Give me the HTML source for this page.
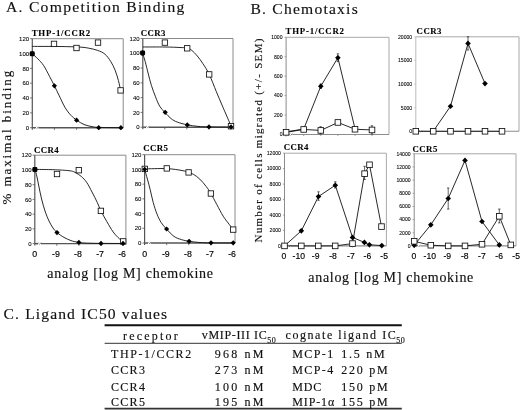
<!DOCTYPE html>
<html><head><meta charset="utf-8"><style>html,body{margin:0;padding:0;background:#fff;}svg{display:block;will-change:transform;}</style></head><body>
<svg width="520" height="410" viewBox="0 0 520 410">
<rect width="520" height="410" fill="#fff"/>
<text x="6.00" y="11.80" font-family="'Liberation Serif', serif" font-size="15.6" font-weight="normal" letter-spacing="1.29" text-anchor="start" fill="#111" stroke="#111" stroke-width="0.15" >A. Competition Binding</text>
<text x="250.50" y="13.60" font-family="'Liberation Serif', serif" font-size="15.6" font-weight="normal" letter-spacing="1.21" text-anchor="start" fill="#111" stroke="#111" stroke-width="0.15" >B. Chemotaxis</text>
<text x="3.60" y="318.70" font-family="'Liberation Serif', serif" font-size="15.6" font-weight="normal" letter-spacing="1.12" text-anchor="start" fill="#111" stroke="#111" stroke-width="0.15" >C. Ligand IC50 values</text>
<line x1="32.30" y1="38.70" x2="123.20" y2="38.70" stroke="#8a8a8a" stroke-width="1"/>
<line x1="123.20" y1="38.70" x2="123.20" y2="127.70" stroke="#8a8a8a" stroke-width="1"/>
<line x1="32.30" y1="38.70" x2="32.30" y2="129.70" stroke="#555" stroke-width="1.2"/>
<line x1="32.30" y1="127.70" x2="35.50" y2="127.70" stroke="#555" stroke-width="1.4"/>
<line x1="38.50" y1="127.70" x2="123.20" y2="127.70" stroke="#555" stroke-width="1.4"/>
<line x1="34.50" y1="128.70" x2="36.10" y2="126.70" stroke="#444" stroke-width="0.7"/>
<line x1="36.90" y1="128.70" x2="38.50" y2="126.70" stroke="#444" stroke-width="0.7"/>
<line x1="30.10" y1="38.70" x2="32.30" y2="38.70" stroke="#555" stroke-width="0.8"/>
<text x="29.10" y="40.86" font-family="'Liberation Sans', sans-serif" font-size="6.0" font-weight="normal" letter-spacing="0" text-anchor="end" fill="#000" stroke="#000" stroke-width="0.08" >120</text>
<line x1="30.10" y1="53.53" x2="32.30" y2="53.53" stroke="#555" stroke-width="0.8"/>
<text x="29.10" y="55.69" font-family="'Liberation Sans', sans-serif" font-size="6.0" font-weight="normal" letter-spacing="0" text-anchor="end" fill="#000" stroke="#000" stroke-width="0.08" >100</text>
<line x1="30.10" y1="68.37" x2="32.30" y2="68.37" stroke="#555" stroke-width="0.8"/>
<text x="29.10" y="70.53" font-family="'Liberation Sans', sans-serif" font-size="6.0" font-weight="normal" letter-spacing="0" text-anchor="end" fill="#000" stroke="#000" stroke-width="0.08" >80</text>
<line x1="30.10" y1="83.20" x2="32.30" y2="83.20" stroke="#555" stroke-width="0.8"/>
<text x="29.10" y="85.36" font-family="'Liberation Sans', sans-serif" font-size="6.0" font-weight="normal" letter-spacing="0" text-anchor="end" fill="#000" stroke="#000" stroke-width="0.08" >60</text>
<line x1="30.10" y1="98.03" x2="32.30" y2="98.03" stroke="#555" stroke-width="0.8"/>
<text x="29.10" y="100.19" font-family="'Liberation Sans', sans-serif" font-size="6.0" font-weight="normal" letter-spacing="0" text-anchor="end" fill="#000" stroke="#000" stroke-width="0.08" >40</text>
<line x1="30.10" y1="112.87" x2="32.30" y2="112.87" stroke="#555" stroke-width="0.8"/>
<text x="29.10" y="115.03" font-family="'Liberation Sans', sans-serif" font-size="6.0" font-weight="normal" letter-spacing="0" text-anchor="end" fill="#000" stroke="#000" stroke-width="0.08" >20</text>
<line x1="30.10" y1="127.70" x2="32.30" y2="127.70" stroke="#555" stroke-width="0.8"/>
<text x="29.10" y="129.86" font-family="'Liberation Sans', sans-serif" font-size="6.0" font-weight="normal" letter-spacing="0" text-anchor="end" fill="#000" stroke="#000" stroke-width="0.08" >0</text>
<line x1="54.45" y1="127.70" x2="54.45" y2="129.90" stroke="#555" stroke-width="0.8"/>
<line x1="76.60" y1="127.70" x2="76.60" y2="129.90" stroke="#555" stroke-width="0.8"/>
<line x1="98.75" y1="127.70" x2="98.75" y2="129.90" stroke="#555" stroke-width="0.8"/>
<line x1="120.90" y1="127.70" x2="120.90" y2="129.90" stroke="#555" stroke-width="0.8"/>
<path d="M32.30 46.40 C36.92 46.42 52.05 46.38 60.00 46.50 C67.95 46.62 75.20 46.82 80.00 47.10 C84.80 47.38 85.87 47.65 88.80 48.20 C91.73 48.75 94.92 49.42 97.60 50.40 C100.28 51.38 102.72 52.27 104.90 54.10 C107.08 55.93 109.00 58.72 110.70 61.40 C112.40 64.08 113.82 67.02 115.10 70.20 C116.38 73.38 117.48 77.13 118.40 80.50 C119.32 83.87 120.23 88.75 120.60 90.40" fill="none" stroke="#111" stroke-width="0.9"/>
<path d="M32.20 53.70 C33.13 54.55 35.88 56.82 37.80 58.80 C39.72 60.78 41.75 62.68 43.70 65.60 C45.65 68.52 47.72 72.93 49.50 76.30 C51.28 79.67 52.77 82.53 54.40 85.80 C56.03 89.07 57.52 92.27 59.30 95.90 C61.08 99.53 63.15 104.35 65.10 107.60 C67.05 110.85 69.05 113.30 71.00 115.40 C72.95 117.50 74.63 118.68 76.80 120.20 C78.97 121.72 81.47 123.43 84.00 124.50 C86.53 125.57 89.33 126.12 92.00 126.60 C94.67 127.08 95.18 127.22 100.00 127.40 C104.82 127.58 117.42 127.65 120.90 127.70" fill="none" stroke="#111" stroke-width="0.9"/>
<rect x="51.30" y="41.20" width="5.4" height="5.4" fill="#fff" stroke="#111" stroke-width="0.85"/>
<rect x="73.80" y="45.30" width="5.4" height="5.4" fill="#fff" stroke="#111" stroke-width="0.85"/>
<rect x="95.30" y="39.90" width="5.4" height="5.4" fill="#fff" stroke="#111" stroke-width="0.85"/>
<rect x="117.90" y="87.70" width="5.4" height="5.4" fill="#fff" stroke="#111" stroke-width="0.85"/>
<rect x="29.70" y="51.20" width="5.0" height="5.0" rx="1.3" fill="#000"/>
<path d="M32.20 51.10 L34.80 53.70 L32.20 56.30 L29.60 53.70Z" fill="#000"/>
<path d="M54.40 83.20 L57.00 85.80 L54.40 88.40 L51.80 85.80Z" fill="#000"/>
<path d="M76.60 117.60 L79.20 120.20 L76.60 122.80 L74.00 120.20Z" fill="#000"/>
<path d="M98.70 125.10 L101.30 127.70 L98.70 130.30 L96.10 127.70Z" fill="#000"/>
<path d="M120.90 125.10 L123.50 127.70 L120.90 130.30 L118.30 127.70Z" fill="#000"/>
<line x1="142.80" y1="38.50" x2="233.00" y2="38.50" stroke="#8a8a8a" stroke-width="1"/>
<line x1="233.00" y1="38.50" x2="233.00" y2="127.20" stroke="#8a8a8a" stroke-width="1"/>
<line x1="142.80" y1="38.50" x2="142.80" y2="129.20" stroke="#555" stroke-width="1.2"/>
<line x1="142.80" y1="127.20" x2="146.00" y2="127.20" stroke="#555" stroke-width="1.4"/>
<line x1="149.00" y1="127.20" x2="233.00" y2="127.20" stroke="#555" stroke-width="1.4"/>
<line x1="145.00" y1="128.20" x2="146.60" y2="126.20" stroke="#444" stroke-width="0.7"/>
<line x1="147.40" y1="128.20" x2="149.00" y2="126.20" stroke="#444" stroke-width="0.7"/>
<line x1="140.60" y1="38.50" x2="142.80" y2="38.50" stroke="#555" stroke-width="0.8"/>
<text x="139.60" y="40.66" font-family="'Liberation Sans', sans-serif" font-size="6.0" font-weight="normal" letter-spacing="0" text-anchor="end" fill="#000" stroke="#000" stroke-width="0.08" >120</text>
<line x1="140.60" y1="53.28" x2="142.80" y2="53.28" stroke="#555" stroke-width="0.8"/>
<text x="139.60" y="55.44" font-family="'Liberation Sans', sans-serif" font-size="6.0" font-weight="normal" letter-spacing="0" text-anchor="end" fill="#000" stroke="#000" stroke-width="0.08" >100</text>
<line x1="140.60" y1="68.07" x2="142.80" y2="68.07" stroke="#555" stroke-width="0.8"/>
<text x="139.60" y="70.23" font-family="'Liberation Sans', sans-serif" font-size="6.0" font-weight="normal" letter-spacing="0" text-anchor="end" fill="#000" stroke="#000" stroke-width="0.08" >80</text>
<line x1="140.60" y1="82.85" x2="142.80" y2="82.85" stroke="#555" stroke-width="0.8"/>
<text x="139.60" y="85.01" font-family="'Liberation Sans', sans-serif" font-size="6.0" font-weight="normal" letter-spacing="0" text-anchor="end" fill="#000" stroke="#000" stroke-width="0.08" >60</text>
<line x1="140.60" y1="97.63" x2="142.80" y2="97.63" stroke="#555" stroke-width="0.8"/>
<text x="139.60" y="99.79" font-family="'Liberation Sans', sans-serif" font-size="6.0" font-weight="normal" letter-spacing="0" text-anchor="end" fill="#000" stroke="#000" stroke-width="0.08" >40</text>
<line x1="140.60" y1="112.42" x2="142.80" y2="112.42" stroke="#555" stroke-width="0.8"/>
<text x="139.60" y="114.58" font-family="'Liberation Sans', sans-serif" font-size="6.0" font-weight="normal" letter-spacing="0" text-anchor="end" fill="#000" stroke="#000" stroke-width="0.08" >20</text>
<line x1="140.60" y1="127.20" x2="142.80" y2="127.20" stroke="#555" stroke-width="0.8"/>
<text x="139.60" y="129.36" font-family="'Liberation Sans', sans-serif" font-size="6.0" font-weight="normal" letter-spacing="0" text-anchor="end" fill="#000" stroke="#000" stroke-width="0.08" >0</text>
<line x1="164.80" y1="127.20" x2="164.80" y2="129.40" stroke="#555" stroke-width="0.8"/>
<line x1="186.80" y1="127.20" x2="186.80" y2="129.40" stroke="#555" stroke-width="0.8"/>
<line x1="208.80" y1="127.20" x2="208.80" y2="129.40" stroke="#555" stroke-width="0.8"/>
<line x1="230.80" y1="127.20" x2="230.80" y2="129.40" stroke="#555" stroke-width="0.8"/>
<path d="M142.80 47.00 C146.50 47.00 158.80 46.92 165.00 47.00 C171.20 47.08 176.30 47.32 180.00 47.50 C183.70 47.68 185.25 47.63 187.20 48.10 C189.15 48.57 190.02 48.98 191.70 50.30 C193.38 51.62 195.42 53.75 197.30 56.00 C199.18 58.25 201.02 60.75 203.00 63.80 C204.98 66.85 206.97 69.63 209.20 74.30 C211.43 78.97 214.08 86.25 216.40 91.80 C218.72 97.35 220.85 102.35 223.10 107.60 C225.35 112.85 228.58 120.20 229.90 123.30 C231.22 126.40 230.82 125.72 231.00 126.20" fill="none" stroke="#111" stroke-width="0.9"/>
<path d="M142.50 52.90 C142.95 54.35 144.23 58.08 145.20 61.60 C146.17 65.12 147.27 70.03 148.30 74.00 C149.33 77.97 150.20 81.60 151.40 85.40 C152.60 89.20 154.12 93.33 155.50 96.80 C156.88 100.27 158.13 103.60 159.70 106.20 C161.27 108.80 163.00 110.33 164.90 112.40 C166.80 114.47 169.03 116.98 171.10 118.60 C173.17 120.22 174.60 121.07 177.30 122.10 C180.00 123.13 183.85 124.08 187.30 124.80 C190.75 125.52 194.38 126.05 198.00 126.40 C201.62 126.75 203.50 126.78 209.00 126.90 C214.50 127.02 227.33 127.07 231.00 127.10" fill="none" stroke="#111" stroke-width="0.9"/>
<rect x="162.20" y="39.90" width="5.4" height="5.4" fill="#fff" stroke="#111" stroke-width="0.85"/>
<rect x="184.50" y="45.60" width="5.4" height="5.4" fill="#fff" stroke="#111" stroke-width="0.85"/>
<rect x="206.50" y="71.70" width="5.4" height="5.4" fill="#fff" stroke="#111" stroke-width="0.85"/>
<rect x="228.30" y="123.50" width="5.4" height="5.4" fill="#fff" stroke="#111" stroke-width="0.85"/>
<rect x="140.10" y="50.40" width="5.0" height="5.0" rx="1.3" fill="#000"/>
<path d="M142.60 50.30 L145.20 52.90 L142.60 55.50 L140.00 52.90Z" fill="#000"/>
<path d="M165.20 109.70 L167.80 112.30 L165.20 114.90 L162.60 112.30Z" fill="#000"/>
<path d="M187.30 122.30 L189.90 124.90 L187.30 127.50 L184.70 124.90Z" fill="#000"/>
<path d="M209.00 124.30 L211.60 126.90 L209.00 129.50 L206.40 126.90Z" fill="#000"/>
<path d="M231.00 124.30 L233.60 126.90 L231.00 129.50 L228.40 126.90Z" fill="#000"/>
<line x1="34.80" y1="155.20" x2="125.90" y2="155.20" stroke="#8a8a8a" stroke-width="1"/>
<line x1="125.90" y1="155.20" x2="125.90" y2="243.60" stroke="#8a8a8a" stroke-width="1"/>
<line x1="34.80" y1="155.20" x2="34.80" y2="245.60" stroke="#555" stroke-width="1.2"/>
<line x1="34.80" y1="243.60" x2="38.00" y2="243.60" stroke="#555" stroke-width="1.4"/>
<line x1="41.00" y1="243.60" x2="125.90" y2="243.60" stroke="#555" stroke-width="1.4"/>
<line x1="37.00" y1="244.60" x2="38.60" y2="242.60" stroke="#444" stroke-width="0.7"/>
<line x1="39.40" y1="244.60" x2="41.00" y2="242.60" stroke="#444" stroke-width="0.7"/>
<line x1="32.60" y1="155.20" x2="34.80" y2="155.20" stroke="#555" stroke-width="0.8"/>
<text x="31.60" y="157.36" font-family="'Liberation Sans', sans-serif" font-size="6.0" font-weight="normal" letter-spacing="0" text-anchor="end" fill="#000" stroke="#000" stroke-width="0.08" >120</text>
<line x1="32.60" y1="169.93" x2="34.80" y2="169.93" stroke="#555" stroke-width="0.8"/>
<text x="31.60" y="172.09" font-family="'Liberation Sans', sans-serif" font-size="6.0" font-weight="normal" letter-spacing="0" text-anchor="end" fill="#000" stroke="#000" stroke-width="0.08" >100</text>
<line x1="32.60" y1="184.67" x2="34.80" y2="184.67" stroke="#555" stroke-width="0.8"/>
<text x="31.60" y="186.83" font-family="'Liberation Sans', sans-serif" font-size="6.0" font-weight="normal" letter-spacing="0" text-anchor="end" fill="#000" stroke="#000" stroke-width="0.08" >80</text>
<line x1="32.60" y1="199.40" x2="34.80" y2="199.40" stroke="#555" stroke-width="0.8"/>
<text x="31.60" y="201.56" font-family="'Liberation Sans', sans-serif" font-size="6.0" font-weight="normal" letter-spacing="0" text-anchor="end" fill="#000" stroke="#000" stroke-width="0.08" >60</text>
<line x1="32.60" y1="214.13" x2="34.80" y2="214.13" stroke="#555" stroke-width="0.8"/>
<text x="31.60" y="216.29" font-family="'Liberation Sans', sans-serif" font-size="6.0" font-weight="normal" letter-spacing="0" text-anchor="end" fill="#000" stroke="#000" stroke-width="0.08" >40</text>
<line x1="32.60" y1="228.87" x2="34.80" y2="228.87" stroke="#555" stroke-width="0.8"/>
<text x="31.60" y="231.03" font-family="'Liberation Sans', sans-serif" font-size="6.0" font-weight="normal" letter-spacing="0" text-anchor="end" fill="#000" stroke="#000" stroke-width="0.08" >20</text>
<line x1="32.60" y1="243.60" x2="34.80" y2="243.60" stroke="#555" stroke-width="0.8"/>
<text x="31.60" y="245.76" font-family="'Liberation Sans', sans-serif" font-size="6.0" font-weight="normal" letter-spacing="0" text-anchor="end" fill="#000" stroke="#000" stroke-width="0.08" >0</text>
<line x1="56.85" y1="243.60" x2="56.85" y2="245.80" stroke="#555" stroke-width="0.8"/>
<line x1="78.90" y1="243.60" x2="78.90" y2="245.80" stroke="#555" stroke-width="0.8"/>
<line x1="100.95" y1="243.60" x2="100.95" y2="245.80" stroke="#555" stroke-width="0.8"/>
<line x1="123.00" y1="243.60" x2="123.00" y2="245.80" stroke="#555" stroke-width="0.8"/>
<path d="M35.00 169.40 C37.50 169.43 45.83 169.50 50.00 169.60 C54.17 169.70 56.67 169.80 60.00 170.00 C63.33 170.20 67.50 170.42 70.00 170.80 C72.50 171.18 73.10 171.35 75.00 172.30 C76.90 173.25 79.45 174.82 81.40 176.50 C83.35 178.18 84.93 179.82 86.70 182.40 C88.47 184.98 90.23 188.65 92.00 192.00 C93.77 195.35 95.82 199.35 97.30 202.50 C98.78 205.65 99.32 207.73 100.90 210.90 C102.48 214.07 104.75 217.98 106.80 221.50 C108.85 225.02 111.08 229.10 113.20 232.00 C115.32 234.90 117.82 237.30 119.50 238.90 C121.18 240.50 122.67 241.15 123.30 241.60" fill="none" stroke="#111" stroke-width="0.9"/>
<path d="M35.00 169.40 C35.33 170.67 36.33 174.07 37.00 177.00 C37.67 179.93 38.23 183.33 39.00 187.00 C39.77 190.67 40.60 195.00 41.60 199.00 C42.60 203.00 43.77 207.33 45.00 211.00 C46.23 214.67 47.67 218.17 49.00 221.00 C50.33 223.83 51.67 226.07 53.00 228.00 C54.33 229.93 55.17 231.03 57.00 232.60 C58.83 234.17 61.67 236.07 64.00 237.40 C66.33 238.73 68.67 239.80 71.00 240.60 C73.33 241.40 74.83 241.77 78.00 242.20 C81.17 242.63 82.50 242.98 90.00 243.20 C97.50 243.42 117.50 243.45 123.00 243.50" fill="none" stroke="#111" stroke-width="0.9"/>
<rect x="54.30" y="171.30" width="5.4" height="5.4" fill="#fff" stroke="#111" stroke-width="0.85"/>
<rect x="76.10" y="167.50" width="5.4" height="5.4" fill="#fff" stroke="#111" stroke-width="0.85"/>
<rect x="98.20" y="208.20" width="5.4" height="5.4" fill="#fff" stroke="#111" stroke-width="0.85"/>
<rect x="120.50" y="238.70" width="5.4" height="5.4" fill="#fff" stroke="#111" stroke-width="0.85"/>
<rect x="32.40" y="167.10" width="5.0" height="5.0" rx="1.3" fill="#000"/>
<path d="M34.90 167.00 L37.50 169.60 L34.90 172.20 L32.30 169.60Z" fill="#000"/>
<path d="M57.00 230.00 L59.60 232.60 L57.00 235.20 L54.40 232.60Z" fill="#000"/>
<path d="M78.90 239.80 L81.50 242.40 L78.90 245.00 L76.30 242.40Z" fill="#000"/>
<path d="M101.00 240.80 L103.60 243.40 L101.00 246.00 L98.40 243.40Z" fill="#000"/>
<path d="M123.00 240.80 L125.60 243.40 L123.00 246.00 L120.40 243.40Z" fill="#000"/>
<line x1="144.60" y1="154.70" x2="235.00" y2="154.70" stroke="#8a8a8a" stroke-width="1"/>
<line x1="235.00" y1="154.70" x2="235.00" y2="243.00" stroke="#8a8a8a" stroke-width="1"/>
<line x1="144.60" y1="154.70" x2="144.60" y2="245.00" stroke="#555" stroke-width="1.2"/>
<line x1="144.60" y1="243.00" x2="147.80" y2="243.00" stroke="#555" stroke-width="1.4"/>
<line x1="150.80" y1="243.00" x2="235.00" y2="243.00" stroke="#555" stroke-width="1.4"/>
<line x1="146.80" y1="244.00" x2="148.40" y2="242.00" stroke="#444" stroke-width="0.7"/>
<line x1="149.20" y1="244.00" x2="150.80" y2="242.00" stroke="#444" stroke-width="0.7"/>
<line x1="142.40" y1="154.70" x2="144.60" y2="154.70" stroke="#555" stroke-width="0.8"/>
<text x="141.40" y="156.86" font-family="'Liberation Sans', sans-serif" font-size="6.0" font-weight="normal" letter-spacing="0" text-anchor="end" fill="#000" stroke="#000" stroke-width="0.08" >120</text>
<line x1="142.40" y1="169.42" x2="144.60" y2="169.42" stroke="#555" stroke-width="0.8"/>
<text x="141.40" y="171.58" font-family="'Liberation Sans', sans-serif" font-size="6.0" font-weight="normal" letter-spacing="0" text-anchor="end" fill="#000" stroke="#000" stroke-width="0.08" >100</text>
<line x1="142.40" y1="184.13" x2="144.60" y2="184.13" stroke="#555" stroke-width="0.8"/>
<text x="141.40" y="186.29" font-family="'Liberation Sans', sans-serif" font-size="6.0" font-weight="normal" letter-spacing="0" text-anchor="end" fill="#000" stroke="#000" stroke-width="0.08" >80</text>
<line x1="142.40" y1="198.85" x2="144.60" y2="198.85" stroke="#555" stroke-width="0.8"/>
<text x="141.40" y="201.01" font-family="'Liberation Sans', sans-serif" font-size="6.0" font-weight="normal" letter-spacing="0" text-anchor="end" fill="#000" stroke="#000" stroke-width="0.08" >60</text>
<line x1="142.40" y1="213.57" x2="144.60" y2="213.57" stroke="#555" stroke-width="0.8"/>
<text x="141.40" y="215.73" font-family="'Liberation Sans', sans-serif" font-size="6.0" font-weight="normal" letter-spacing="0" text-anchor="end" fill="#000" stroke="#000" stroke-width="0.08" >40</text>
<line x1="142.40" y1="228.28" x2="144.60" y2="228.28" stroke="#555" stroke-width="0.8"/>
<text x="141.40" y="230.44" font-family="'Liberation Sans', sans-serif" font-size="6.0" font-weight="normal" letter-spacing="0" text-anchor="end" fill="#000" stroke="#000" stroke-width="0.08" >20</text>
<line x1="142.40" y1="243.00" x2="144.60" y2="243.00" stroke="#555" stroke-width="0.8"/>
<text x="141.40" y="245.16" font-family="'Liberation Sans', sans-serif" font-size="6.0" font-weight="normal" letter-spacing="0" text-anchor="end" fill="#000" stroke="#000" stroke-width="0.08" >0</text>
<line x1="166.70" y1="243.00" x2="166.70" y2="245.20" stroke="#555" stroke-width="0.8"/>
<line x1="188.80" y1="243.00" x2="188.80" y2="245.20" stroke="#555" stroke-width="0.8"/>
<line x1="210.90" y1="243.00" x2="210.90" y2="245.20" stroke="#555" stroke-width="0.8"/>
<line x1="233.00" y1="243.00" x2="233.00" y2="245.20" stroke="#555" stroke-width="0.8"/>
<path d="M144.70 168.90 C148.33 168.85 160.28 168.33 166.50 168.60 C172.72 168.87 178.38 169.88 182.00 170.50 C185.62 171.12 186.28 171.65 188.20 172.30 C190.12 172.95 191.57 173.27 193.50 174.40 C195.43 175.53 197.68 177.08 199.80 179.10 C201.92 181.12 204.35 184.10 206.20 186.50 C208.05 188.90 209.13 190.50 210.90 193.50 C212.67 196.50 214.75 200.72 216.80 204.50 C218.85 208.28 221.08 212.83 223.20 216.20 C225.32 219.57 227.82 222.48 229.50 224.70 C231.18 226.92 232.67 228.70 233.30 229.50" fill="none" stroke="#111" stroke-width="0.9"/>
<path d="M144.70 169.60 C145.15 171.18 146.48 175.75 147.40 179.10 C148.32 182.45 149.23 185.82 150.20 189.70 C151.17 193.58 152.07 198.33 153.20 202.40 C154.33 206.47 155.67 210.73 157.00 214.10 C158.33 217.47 159.62 220.12 161.20 222.60 C162.78 225.08 164.37 226.70 166.50 229.00 C168.63 231.30 171.52 234.63 174.00 236.40 C176.48 238.17 178.87 238.78 181.40 239.60 C183.93 240.42 186.10 240.82 189.20 241.30 C192.30 241.78 196.37 242.23 200.00 242.50 C203.63 242.77 205.50 242.82 211.00 242.90 C216.50 242.98 229.33 242.98 233.00 243.00" fill="none" stroke="#111" stroke-width="0.9"/>
<rect x="142.10" y="166.20" width="5.4" height="5.4" fill="#fff" stroke="#111" stroke-width="0.85"/>
<rect x="164.10" y="165.70" width="5.4" height="5.4" fill="#fff" stroke="#111" stroke-width="0.85"/>
<rect x="185.90" y="169.70" width="5.4" height="5.4" fill="#fff" stroke="#111" stroke-width="0.85"/>
<rect x="208.20" y="190.80" width="5.4" height="5.4" fill="#fff" stroke="#111" stroke-width="0.85"/>
<rect x="230.50" y="226.90" width="5.4" height="5.4" fill="#fff" stroke="#111" stroke-width="0.85"/>
<path d="M144.70 166.70 L147.30 169.30 L144.70 171.90 L142.10 169.30Z" fill="#000"/>
<path d="M166.60 226.40 L169.20 229.00 L166.60 231.60 L164.00 229.00Z" fill="#000"/>
<path d="M189.10 238.70 L191.70 241.30 L189.10 243.90 L186.50 241.30Z" fill="#000"/>
<path d="M211.00 240.20 L213.60 242.80 L211.00 245.40 L208.40 242.80Z" fill="#000"/>
<path d="M233.20 240.20 L235.80 242.80 L233.20 245.40 L230.60 242.80Z" fill="#000"/>
<text x="34.80" y="257.40" font-family="'Liberation Sans', sans-serif" font-size="8.8" font-weight="normal" letter-spacing="0" text-anchor="middle" fill="#000" stroke="#000" stroke-width="0.15" >0</text>
<text x="55.95" y="257.40" font-family="'Liberation Sans', sans-serif" font-size="8.8" font-weight="normal" letter-spacing="0" text-anchor="middle" fill="#000" stroke="#000" stroke-width="0.15" >-9</text>
<text x="78.00" y="257.40" font-family="'Liberation Sans', sans-serif" font-size="8.8" font-weight="normal" letter-spacing="0" text-anchor="middle" fill="#000" stroke="#000" stroke-width="0.15" >-8</text>
<text x="100.05" y="257.40" font-family="'Liberation Sans', sans-serif" font-size="8.8" font-weight="normal" letter-spacing="0" text-anchor="middle" fill="#000" stroke="#000" stroke-width="0.15" >-7</text>
<text x="122.10" y="257.40" font-family="'Liberation Sans', sans-serif" font-size="8.8" font-weight="normal" letter-spacing="0" text-anchor="middle" fill="#000" stroke="#000" stroke-width="0.15" >-6</text>
<text x="144.60" y="257.40" font-family="'Liberation Sans', sans-serif" font-size="8.8" font-weight="normal" letter-spacing="0" text-anchor="middle" fill="#000" stroke="#000" stroke-width="0.15" >0</text>
<text x="165.80" y="257.40" font-family="'Liberation Sans', sans-serif" font-size="8.8" font-weight="normal" letter-spacing="0" text-anchor="middle" fill="#000" stroke="#000" stroke-width="0.15" >-9</text>
<text x="187.90" y="257.40" font-family="'Liberation Sans', sans-serif" font-size="8.8" font-weight="normal" letter-spacing="0" text-anchor="middle" fill="#000" stroke="#000" stroke-width="0.15" >-8</text>
<text x="210.00" y="257.40" font-family="'Liberation Sans', sans-serif" font-size="8.8" font-weight="normal" letter-spacing="0" text-anchor="middle" fill="#000" stroke="#000" stroke-width="0.15" >-7</text>
<text x="232.10" y="257.40" font-family="'Liberation Sans', sans-serif" font-size="8.8" font-weight="normal" letter-spacing="0" text-anchor="middle" fill="#000" stroke="#000" stroke-width="0.15" >-6</text>
<text transform="translate(10.6,204.6) rotate(-90)" font-family="'Liberation Serif', serif" font-size="13" letter-spacing="1.95" fill="#111" stroke="#111" stroke-width="0.15">% maximal binding</text>
<text x="47.30" y="278.00" font-family="'Liberation Serif', serif" font-size="14" font-weight="normal" letter-spacing="0.73" text-anchor="start" fill="#111" stroke="#111" stroke-width="0.15" >analog [log M] chemokine</text>
<line x1="286.10" y1="37.30" x2="389.00" y2="37.30" stroke="#a8a8a8" stroke-width="1"/>
<line x1="389.00" y1="37.30" x2="389.00" y2="134.50" stroke="#a8a8a8" stroke-width="1"/>
<line x1="286.10" y1="37.30" x2="286.10" y2="136.50" stroke="#8c8c8c" stroke-width="1.0"/>
<line x1="286.10" y1="134.50" x2="289.30" y2="134.50" stroke="#8c8c8c" stroke-width="1.1"/>
<line x1="292.30" y1="134.50" x2="389.00" y2="134.50" stroke="#8c8c8c" stroke-width="1.1"/>
<line x1="288.30" y1="135.50" x2="289.90" y2="133.50" stroke="#444" stroke-width="0.7"/>
<line x1="290.70" y1="135.50" x2="292.30" y2="133.50" stroke="#444" stroke-width="0.7"/>
<line x1="284.50" y1="37.30" x2="286.10" y2="37.30" stroke="#8c8c8c" stroke-width="0.8"/>
<text x="282.50" y="39.14" font-family="'Liberation Sans', sans-serif" font-size="5.1" font-weight="normal" letter-spacing="0" text-anchor="end" fill="#000" stroke="#000" stroke-width="0.08" >1000</text>
<line x1="284.50" y1="56.74" x2="286.10" y2="56.74" stroke="#8c8c8c" stroke-width="0.8"/>
<text x="282.50" y="58.58" font-family="'Liberation Sans', sans-serif" font-size="5.1" font-weight="normal" letter-spacing="0" text-anchor="end" fill="#000" stroke="#000" stroke-width="0.08" >800</text>
<line x1="284.50" y1="76.18" x2="286.10" y2="76.18" stroke="#8c8c8c" stroke-width="0.8"/>
<text x="282.50" y="78.02" font-family="'Liberation Sans', sans-serif" font-size="5.1" font-weight="normal" letter-spacing="0" text-anchor="end" fill="#000" stroke="#000" stroke-width="0.08" >600</text>
<line x1="284.50" y1="95.62" x2="286.10" y2="95.62" stroke="#8c8c8c" stroke-width="0.8"/>
<text x="282.50" y="97.46" font-family="'Liberation Sans', sans-serif" font-size="5.1" font-weight="normal" letter-spacing="0" text-anchor="end" fill="#000" stroke="#000" stroke-width="0.08" >400</text>
<line x1="284.50" y1="115.06" x2="286.10" y2="115.06" stroke="#8c8c8c" stroke-width="0.8"/>
<text x="282.50" y="116.90" font-family="'Liberation Sans', sans-serif" font-size="5.1" font-weight="normal" letter-spacing="0" text-anchor="end" fill="#000" stroke="#000" stroke-width="0.08" >200</text>
<line x1="284.50" y1="134.50" x2="286.10" y2="134.50" stroke="#8c8c8c" stroke-width="0.8"/>
<text x="282.50" y="136.34" font-family="'Liberation Sans', sans-serif" font-size="5.1" font-weight="normal" letter-spacing="0" text-anchor="end" fill="#000" stroke="#000" stroke-width="0.08" >0</text>
<line x1="303.70" y1="134.50" x2="303.70" y2="136.10" stroke="#8c8c8c" stroke-width="0.8"/>
<line x1="320.80" y1="134.50" x2="320.80" y2="136.10" stroke="#8c8c8c" stroke-width="0.8"/>
<line x1="337.90" y1="134.50" x2="337.90" y2="136.10" stroke="#8c8c8c" stroke-width="0.8"/>
<line x1="355.00" y1="134.50" x2="355.00" y2="136.10" stroke="#8c8c8c" stroke-width="0.8"/>
<line x1="372.00" y1="134.50" x2="372.00" y2="136.10" stroke="#8c8c8c" stroke-width="0.8"/>
<polyline points="286.40,131.78 303.70,129.06 320.80,86.19 337.90,57.71 355.00,128.67" fill="none" stroke="#111" stroke-width="0.9"/>
<polyline points="286.10,132.36 303.70,129.45 320.80,130.42 337.90,122.45 355.00,129.25 372.00,129.93" fill="none" stroke="#111" stroke-width="0.9"/>
<line x1="337.90" y1="53.82" x2="337.90" y2="61.60" stroke="#222" stroke-width="0.7"/>
<line x1="336.70" y1="53.82" x2="339.10" y2="53.82" stroke="#222" stroke-width="0.7"/>
<line x1="336.70" y1="61.60" x2="339.10" y2="61.60" stroke="#222" stroke-width="0.7"/>
<line x1="320.80" y1="83.96" x2="320.80" y2="88.33" stroke="#222" stroke-width="0.7"/>
<line x1="319.60" y1="83.96" x2="322.00" y2="83.96" stroke="#222" stroke-width="0.7"/>
<line x1="319.60" y1="88.33" x2="322.00" y2="88.33" stroke="#222" stroke-width="0.7"/>
<line x1="320.60" y1="126.72" x2="320.60" y2="134.01" stroke="#222" stroke-width="0.7"/>
<line x1="319.40" y1="126.72" x2="321.80" y2="126.72" stroke="#222" stroke-width="0.7"/>
<line x1="319.40" y1="134.01" x2="321.80" y2="134.01" stroke="#222" stroke-width="0.7"/>
<line x1="371.90" y1="125.75" x2="371.90" y2="134.01" stroke="#222" stroke-width="0.7"/>
<line x1="370.70" y1="125.75" x2="373.10" y2="125.75" stroke="#222" stroke-width="0.7"/>
<line x1="370.70" y1="134.01" x2="373.10" y2="134.01" stroke="#222" stroke-width="0.7"/>
<line x1="303.70" y1="127.21" x2="303.70" y2="131.58" stroke="#222" stroke-width="0.7"/>
<line x1="302.50" y1="127.21" x2="304.90" y2="127.21" stroke="#222" stroke-width="0.7"/>
<line x1="302.50" y1="131.58" x2="304.90" y2="131.58" stroke="#222" stroke-width="0.7"/>
<path d="M320.80 83.39 L323.60 86.19 L320.80 88.99 L318.00 86.19Z" fill="#000"/>
<path d="M337.90 54.91 L340.70 57.71 L337.90 60.51 L335.10 57.71Z" fill="#000"/>
<rect x="283.30" y="129.56" width="5.6" height="5.6" fill="#fff" stroke="#111" stroke-width="0.85"/>
<rect x="300.90" y="126.65" width="5.6" height="5.6" fill="#fff" stroke="#111" stroke-width="0.85"/>
<rect x="318.00" y="127.62" width="5.6" height="5.6" fill="#fff" stroke="#111" stroke-width="0.85"/>
<rect x="335.10" y="119.65" width="5.6" height="5.6" fill="#fff" stroke="#111" stroke-width="0.85"/>
<rect x="352.20" y="126.45" width="5.6" height="5.6" fill="#fff" stroke="#111" stroke-width="0.85"/>
<rect x="369.20" y="127.13" width="5.6" height="5.6" fill="#fff" stroke="#111" stroke-width="0.85"/>
<line x1="415.80" y1="36.80" x2="519.00" y2="36.80" stroke="#a8a8a8" stroke-width="1"/>
<line x1="519.00" y1="36.80" x2="519.00" y2="131.30" stroke="#a8a8a8" stroke-width="1"/>
<line x1="415.80" y1="36.80" x2="415.80" y2="133.30" stroke="#bdbdbd" stroke-width="1.0"/>
<line x1="415.80" y1="131.30" x2="419.00" y2="131.30" stroke="#8c8c8c" stroke-width="1.1"/>
<line x1="422.00" y1="131.30" x2="519.00" y2="131.30" stroke="#8c8c8c" stroke-width="1.1"/>
<line x1="418.00" y1="132.30" x2="419.60" y2="130.30" stroke="#444" stroke-width="0.7"/>
<line x1="420.40" y1="132.30" x2="422.00" y2="130.30" stroke="#444" stroke-width="0.7"/>
<line x1="414.20" y1="36.80" x2="415.80" y2="36.80" stroke="#bdbdbd" stroke-width="0.8"/>
<text x="412.20" y="38.64" font-family="'Liberation Sans', sans-serif" font-size="5.1" font-weight="normal" letter-spacing="0" text-anchor="end" fill="#000" stroke="#000" stroke-width="0.08" >20000</text>
<line x1="414.20" y1="60.42" x2="415.80" y2="60.42" stroke="#bdbdbd" stroke-width="0.8"/>
<text x="412.20" y="62.26" font-family="'Liberation Sans', sans-serif" font-size="5.1" font-weight="normal" letter-spacing="0" text-anchor="end" fill="#000" stroke="#000" stroke-width="0.08" >15000</text>
<line x1="414.20" y1="84.05" x2="415.80" y2="84.05" stroke="#bdbdbd" stroke-width="0.8"/>
<text x="412.20" y="85.89" font-family="'Liberation Sans', sans-serif" font-size="5.1" font-weight="normal" letter-spacing="0" text-anchor="end" fill="#000" stroke="#000" stroke-width="0.08" >10000</text>
<line x1="414.20" y1="107.68" x2="415.80" y2="107.68" stroke="#bdbdbd" stroke-width="0.8"/>
<text x="412.20" y="109.51" font-family="'Liberation Sans', sans-serif" font-size="5.1" font-weight="normal" letter-spacing="0" text-anchor="end" fill="#000" stroke="#000" stroke-width="0.08" >5000</text>
<line x1="414.20" y1="131.30" x2="415.80" y2="131.30" stroke="#bdbdbd" stroke-width="0.8"/>
<text x="412.20" y="133.14" font-family="'Liberation Sans', sans-serif" font-size="5.1" font-weight="normal" letter-spacing="0" text-anchor="end" fill="#000" stroke="#000" stroke-width="0.08" >0</text>
<line x1="433.20" y1="131.30" x2="433.20" y2="132.90" stroke="#8c8c8c" stroke-width="0.8"/>
<line x1="450.50" y1="131.30" x2="450.50" y2="132.90" stroke="#8c8c8c" stroke-width="0.8"/>
<line x1="468.00" y1="131.30" x2="468.00" y2="132.90" stroke="#8c8c8c" stroke-width="0.8"/>
<line x1="485.00" y1="131.30" x2="485.00" y2="132.90" stroke="#8c8c8c" stroke-width="0.8"/>
<line x1="502.00" y1="131.30" x2="502.00" y2="132.90" stroke="#8c8c8c" stroke-width="0.8"/>
<polyline points="433.20,131.30 450.50,106.26 468.00,43.42 485.00,83.58" fill="none" stroke="#111" stroke-width="0.9"/>
<polyline points="415.80,131.30 433.20,131.30 450.50,131.30 468.00,131.30 485.00,131.30 502.00,131.30" fill="none" stroke="#111" stroke-width="0.9"/>
<line x1="468.00" y1="36.80" x2="468.00" y2="50.03" stroke="#222" stroke-width="0.7"/>
<line x1="466.80" y1="36.80" x2="469.20" y2="36.80" stroke="#222" stroke-width="0.7"/>
<line x1="466.80" y1="50.03" x2="469.20" y2="50.03" stroke="#222" stroke-width="0.7"/>
<path d="M450.50 103.46 L453.30 106.26 L450.50 109.06 L447.70 106.26Z" fill="#000"/>
<path d="M468.00 40.62 L470.80 43.42 L468.00 46.22 L465.20 43.42Z" fill="#000"/>
<path d="M485.00 80.78 L487.80 83.58 L485.00 86.38 L482.20 83.58Z" fill="#000"/>
<rect x="413.00" y="128.50" width="5.6" height="5.6" fill="#fff" stroke="#111" stroke-width="0.85"/>
<rect x="430.40" y="128.50" width="5.6" height="5.6" fill="#fff" stroke="#111" stroke-width="0.85"/>
<rect x="447.70" y="128.50" width="5.6" height="5.6" fill="#fff" stroke="#111" stroke-width="0.85"/>
<rect x="465.20" y="128.50" width="5.6" height="5.6" fill="#fff" stroke="#111" stroke-width="0.85"/>
<rect x="482.20" y="128.50" width="5.6" height="5.6" fill="#fff" stroke="#111" stroke-width="0.85"/>
<rect x="499.20" y="128.50" width="5.6" height="5.6" fill="#fff" stroke="#111" stroke-width="0.85"/>
<line x1="284.50" y1="153.20" x2="386.40" y2="153.20" stroke="#a8a8a8" stroke-width="1"/>
<line x1="386.40" y1="153.20" x2="386.40" y2="245.90" stroke="#a8a8a8" stroke-width="1"/>
<line x1="284.50" y1="153.20" x2="284.50" y2="247.90" stroke="#8c8c8c" stroke-width="1.0"/>
<line x1="284.50" y1="245.90" x2="287.70" y2="245.90" stroke="#8c8c8c" stroke-width="1.1"/>
<line x1="290.70" y1="245.90" x2="386.40" y2="245.90" stroke="#8c8c8c" stroke-width="1.1"/>
<line x1="286.70" y1="246.90" x2="288.30" y2="244.90" stroke="#444" stroke-width="0.7"/>
<line x1="289.10" y1="246.90" x2="290.70" y2="244.90" stroke="#444" stroke-width="0.7"/>
<line x1="282.90" y1="153.20" x2="284.50" y2="153.20" stroke="#8c8c8c" stroke-width="0.8"/>
<text x="280.90" y="155.04" font-family="'Liberation Sans', sans-serif" font-size="5.1" font-weight="normal" letter-spacing="0" text-anchor="end" fill="#000" stroke="#000" stroke-width="0.08" >12000</text>
<line x1="282.90" y1="168.65" x2="284.50" y2="168.65" stroke="#8c8c8c" stroke-width="0.8"/>
<text x="280.90" y="170.49" font-family="'Liberation Sans', sans-serif" font-size="5.1" font-weight="normal" letter-spacing="0" text-anchor="end" fill="#000" stroke="#000" stroke-width="0.08" >10000</text>
<line x1="282.90" y1="184.10" x2="284.50" y2="184.10" stroke="#8c8c8c" stroke-width="0.8"/>
<text x="280.90" y="185.94" font-family="'Liberation Sans', sans-serif" font-size="5.1" font-weight="normal" letter-spacing="0" text-anchor="end" fill="#000" stroke="#000" stroke-width="0.08" >8000</text>
<line x1="282.90" y1="199.55" x2="284.50" y2="199.55" stroke="#8c8c8c" stroke-width="0.8"/>
<text x="280.90" y="201.39" font-family="'Liberation Sans', sans-serif" font-size="5.1" font-weight="normal" letter-spacing="0" text-anchor="end" fill="#000" stroke="#000" stroke-width="0.08" >6000</text>
<line x1="282.90" y1="215.00" x2="284.50" y2="215.00" stroke="#8c8c8c" stroke-width="0.8"/>
<text x="280.90" y="216.84" font-family="'Liberation Sans', sans-serif" font-size="5.1" font-weight="normal" letter-spacing="0" text-anchor="end" fill="#000" stroke="#000" stroke-width="0.08" >4000</text>
<line x1="282.90" y1="230.45" x2="284.50" y2="230.45" stroke="#8c8c8c" stroke-width="0.8"/>
<text x="280.90" y="232.29" font-family="'Liberation Sans', sans-serif" font-size="5.1" font-weight="normal" letter-spacing="0" text-anchor="end" fill="#000" stroke="#000" stroke-width="0.08" >2000</text>
<line x1="282.90" y1="245.90" x2="284.50" y2="245.90" stroke="#8c8c8c" stroke-width="0.8"/>
<text x="280.90" y="247.74" font-family="'Liberation Sans', sans-serif" font-size="5.1" font-weight="normal" letter-spacing="0" text-anchor="end" fill="#000" stroke="#000" stroke-width="0.08" >0</text>
<line x1="301.30" y1="245.90" x2="301.30" y2="247.50" stroke="#8c8c8c" stroke-width="0.8"/>
<line x1="318.30" y1="245.90" x2="318.30" y2="247.50" stroke="#8c8c8c" stroke-width="0.8"/>
<line x1="335.20" y1="245.90" x2="335.20" y2="247.50" stroke="#8c8c8c" stroke-width="0.8"/>
<line x1="352.40" y1="245.90" x2="352.40" y2="247.50" stroke="#8c8c8c" stroke-width="0.8"/>
<line x1="369.40" y1="245.90" x2="369.40" y2="247.50" stroke="#8c8c8c" stroke-width="0.8"/>
<polyline points="284.50,245.90 301.30,230.84 318.50,196.46 335.30,185.26 352.50,237.40 364.40,242.42 369.40,244.74 381.80,245.59" fill="none" stroke="#111" stroke-width="0.9"/>
<polyline points="284.50,245.90 301.30,245.90 318.30,245.90 335.20,245.90 352.50,243.58 364.60,173.67 369.50,164.79 381.50,226.59" fill="none" stroke="#111" stroke-width="0.9"/>
<line x1="318.50" y1="191.82" x2="318.50" y2="200.32" stroke="#222" stroke-width="0.7"/>
<line x1="317.30" y1="191.82" x2="319.70" y2="191.82" stroke="#222" stroke-width="0.7"/>
<line x1="317.30" y1="200.32" x2="319.70" y2="200.32" stroke="#222" stroke-width="0.7"/>
<line x1="335.30" y1="181.78" x2="335.30" y2="187.96" stroke="#222" stroke-width="0.7"/>
<line x1="334.10" y1="181.78" x2="336.50" y2="181.78" stroke="#222" stroke-width="0.7"/>
<line x1="334.10" y1="187.96" x2="336.50" y2="187.96" stroke="#222" stroke-width="0.7"/>
<line x1="364.60" y1="166.33" x2="364.60" y2="179.46" stroke="#222" stroke-width="0.7"/>
<line x1="363.40" y1="166.33" x2="365.80" y2="166.33" stroke="#222" stroke-width="0.7"/>
<line x1="363.40" y1="179.46" x2="365.80" y2="179.46" stroke="#222" stroke-width="0.7"/>
<path d="M301.30 228.04 L304.10 230.84 L301.30 233.64 L298.50 230.84Z" fill="#000"/>
<path d="M318.50 193.66 L321.30 196.46 L318.50 199.26 L315.70 196.46Z" fill="#000"/>
<path d="M335.30 182.46 L338.10 185.26 L335.30 188.06 L332.50 185.26Z" fill="#000"/>
<path d="M352.50 234.60 L355.30 237.40 L352.50 240.20 L349.70 237.40Z" fill="#000"/>
<path d="M364.40 239.62 L367.20 242.42 L364.40 245.22 L361.60 242.42Z" fill="#000"/>
<path d="M369.40 241.94 L372.20 244.74 L369.40 247.54 L366.60 244.74Z" fill="#000"/>
<path d="M381.80 242.79 L384.60 245.59 L381.80 248.39 L379.00 245.59Z" fill="#000"/>
<rect x="281.70" y="243.10" width="5.6" height="5.6" fill="#fff" stroke="#111" stroke-width="0.85"/>
<rect x="298.50" y="243.10" width="5.6" height="5.6" fill="#fff" stroke="#111" stroke-width="0.85"/>
<rect x="315.50" y="243.10" width="5.6" height="5.6" fill="#fff" stroke="#111" stroke-width="0.85"/>
<rect x="332.40" y="243.10" width="5.6" height="5.6" fill="#fff" stroke="#111" stroke-width="0.85"/>
<rect x="349.70" y="240.78" width="5.6" height="5.6" fill="#fff" stroke="#111" stroke-width="0.85"/>
<rect x="361.80" y="170.87" width="5.6" height="5.6" fill="#fff" stroke="#111" stroke-width="0.85"/>
<rect x="366.70" y="161.99" width="5.6" height="5.6" fill="#fff" stroke="#111" stroke-width="0.85"/>
<rect x="378.70" y="223.79" width="5.6" height="5.6" fill="#fff" stroke="#111" stroke-width="0.85"/>
<line x1="414.20" y1="153.80" x2="516.00" y2="153.80" stroke="#a8a8a8" stroke-width="1"/>
<line x1="516.00" y1="153.80" x2="516.00" y2="245.90" stroke="#a8a8a8" stroke-width="1"/>
<line x1="414.20" y1="153.80" x2="414.20" y2="247.90" stroke="#8c8c8c" stroke-width="1.0"/>
<line x1="414.20" y1="245.90" x2="417.40" y2="245.90" stroke="#8c8c8c" stroke-width="1.1"/>
<line x1="420.40" y1="245.90" x2="516.00" y2="245.90" stroke="#8c8c8c" stroke-width="1.1"/>
<line x1="416.40" y1="246.90" x2="418.00" y2="244.90" stroke="#444" stroke-width="0.7"/>
<line x1="418.80" y1="246.90" x2="420.40" y2="244.90" stroke="#444" stroke-width="0.7"/>
<line x1="412.60" y1="153.80" x2="414.20" y2="153.80" stroke="#8c8c8c" stroke-width="0.8"/>
<text x="410.60" y="155.64" font-family="'Liberation Sans', sans-serif" font-size="5.1" font-weight="normal" letter-spacing="0" text-anchor="end" fill="#000" stroke="#000" stroke-width="0.08" >14000</text>
<line x1="412.60" y1="166.96" x2="414.20" y2="166.96" stroke="#8c8c8c" stroke-width="0.8"/>
<text x="410.60" y="168.79" font-family="'Liberation Sans', sans-serif" font-size="5.1" font-weight="normal" letter-spacing="0" text-anchor="end" fill="#000" stroke="#000" stroke-width="0.08" >12000</text>
<line x1="412.60" y1="180.11" x2="414.20" y2="180.11" stroke="#8c8c8c" stroke-width="0.8"/>
<text x="410.60" y="181.95" font-family="'Liberation Sans', sans-serif" font-size="5.1" font-weight="normal" letter-spacing="0" text-anchor="end" fill="#000" stroke="#000" stroke-width="0.08" >10000</text>
<line x1="412.60" y1="193.27" x2="414.20" y2="193.27" stroke="#8c8c8c" stroke-width="0.8"/>
<text x="410.60" y="195.11" font-family="'Liberation Sans', sans-serif" font-size="5.1" font-weight="normal" letter-spacing="0" text-anchor="end" fill="#000" stroke="#000" stroke-width="0.08" >8000</text>
<line x1="412.60" y1="206.43" x2="414.20" y2="206.43" stroke="#8c8c8c" stroke-width="0.8"/>
<text x="410.60" y="208.26" font-family="'Liberation Sans', sans-serif" font-size="5.1" font-weight="normal" letter-spacing="0" text-anchor="end" fill="#000" stroke="#000" stroke-width="0.08" >6000</text>
<line x1="412.60" y1="219.59" x2="414.20" y2="219.59" stroke="#8c8c8c" stroke-width="0.8"/>
<text x="410.60" y="221.42" font-family="'Liberation Sans', sans-serif" font-size="5.1" font-weight="normal" letter-spacing="0" text-anchor="end" fill="#000" stroke="#000" stroke-width="0.08" >4000</text>
<line x1="412.60" y1="232.74" x2="414.20" y2="232.74" stroke="#8c8c8c" stroke-width="0.8"/>
<text x="410.60" y="234.58" font-family="'Liberation Sans', sans-serif" font-size="5.1" font-weight="normal" letter-spacing="0" text-anchor="end" fill="#000" stroke="#000" stroke-width="0.08" >2000</text>
<line x1="412.60" y1="245.90" x2="414.20" y2="245.90" stroke="#8c8c8c" stroke-width="0.8"/>
<text x="410.60" y="247.74" font-family="'Liberation Sans', sans-serif" font-size="5.1" font-weight="normal" letter-spacing="0" text-anchor="end" fill="#000" stroke="#000" stroke-width="0.08" >0</text>
<line x1="430.80" y1="245.90" x2="430.80" y2="247.50" stroke="#8c8c8c" stroke-width="0.8"/>
<line x1="448.20" y1="245.90" x2="448.20" y2="247.50" stroke="#8c8c8c" stroke-width="0.8"/>
<line x1="465.00" y1="245.90" x2="465.00" y2="247.50" stroke="#8c8c8c" stroke-width="0.8"/>
<line x1="482.00" y1="245.90" x2="482.00" y2="247.50" stroke="#8c8c8c" stroke-width="0.8"/>
<line x1="499.30" y1="245.90" x2="499.30" y2="247.50" stroke="#8c8c8c" stroke-width="0.8"/>
<polyline points="414.20,245.24 430.80,224.85 448.20,198.53 465.00,160.38 482.00,221.56 499.30,244.91" fill="none" stroke="#111" stroke-width="0.9"/>
<polyline points="414.20,241.30 430.80,245.24 448.20,245.90 465.00,245.90 482.00,244.26 499.30,216.30 510.80,244.91" fill="none" stroke="#111" stroke-width="0.9"/>
<line x1="448.20" y1="188.01" x2="448.20" y2="209.06" stroke="#222" stroke-width="0.7"/>
<line x1="447.00" y1="188.01" x2="449.40" y2="188.01" stroke="#222" stroke-width="0.7"/>
<line x1="447.00" y1="209.06" x2="449.40" y2="209.06" stroke="#222" stroke-width="0.7"/>
<line x1="499.30" y1="209.06" x2="499.30" y2="222.88" stroke="#222" stroke-width="0.7"/>
<line x1="498.10" y1="209.06" x2="500.50" y2="209.06" stroke="#222" stroke-width="0.7"/>
<line x1="498.10" y1="222.88" x2="500.50" y2="222.88" stroke="#222" stroke-width="0.7"/>
<path d="M414.20 242.44 L417.00 245.24 L414.20 248.04 L411.40 245.24Z" fill="#000"/>
<path d="M430.80 222.05 L433.60 224.85 L430.80 227.65 L428.00 224.85Z" fill="#000"/>
<path d="M448.20 195.73 L451.00 198.53 L448.20 201.33 L445.40 198.53Z" fill="#000"/>
<path d="M465.00 157.58 L467.80 160.38 L465.00 163.18 L462.20 160.38Z" fill="#000"/>
<path d="M482.00 218.76 L484.80 221.56 L482.00 224.36 L479.20 221.56Z" fill="#000"/>
<path d="M499.30 242.11 L502.10 244.91 L499.30 247.71 L496.50 244.91Z" fill="#000"/>
<rect x="411.40" y="238.50" width="5.6" height="5.6" fill="#fff" stroke="#111" stroke-width="0.85"/>
<rect x="428.00" y="242.44" width="5.6" height="5.6" fill="#fff" stroke="#111" stroke-width="0.85"/>
<rect x="445.40" y="243.10" width="5.6" height="5.6" fill="#fff" stroke="#111" stroke-width="0.85"/>
<rect x="462.20" y="243.10" width="5.6" height="5.6" fill="#fff" stroke="#111" stroke-width="0.85"/>
<rect x="479.20" y="241.46" width="5.6" height="5.6" fill="#fff" stroke="#111" stroke-width="0.85"/>
<rect x="496.50" y="213.50" width="5.6" height="5.6" fill="#fff" stroke="#111" stroke-width="0.85"/>
<rect x="508.00" y="242.11" width="5.6" height="5.6" fill="#fff" stroke="#111" stroke-width="0.85"/>
<text x="283.80" y="258.60" font-family="'Liberation Sans', sans-serif" font-size="8.6" font-weight="normal" letter-spacing="0" text-anchor="middle" fill="#000" stroke="#000" stroke-width="0.15" >0</text>
<text x="298.80" y="258.60" font-family="'Liberation Sans', sans-serif" font-size="8.6" font-weight="normal" letter-spacing="0" text-anchor="middle" fill="#000" stroke="#000" stroke-width="0.15" >-10</text>
<text x="315.70" y="258.60" font-family="'Liberation Sans', sans-serif" font-size="8.6" font-weight="normal" letter-spacing="0" text-anchor="middle" fill="#000" stroke="#000" stroke-width="0.15" >-9</text>
<text x="333.00" y="258.60" font-family="'Liberation Sans', sans-serif" font-size="8.6" font-weight="normal" letter-spacing="0" text-anchor="middle" fill="#000" stroke="#000" stroke-width="0.15" >-8</text>
<text x="350.90" y="258.60" font-family="'Liberation Sans', sans-serif" font-size="8.6" font-weight="normal" letter-spacing="0" text-anchor="middle" fill="#000" stroke="#000" stroke-width="0.15" >-7</text>
<text x="367.40" y="258.60" font-family="'Liberation Sans', sans-serif" font-size="8.6" font-weight="normal" letter-spacing="0" text-anchor="middle" fill="#000" stroke="#000" stroke-width="0.15" >-6</text>
<text x="384.20" y="258.60" font-family="'Liberation Sans', sans-serif" font-size="8.6" font-weight="normal" letter-spacing="0" text-anchor="middle" fill="#000" stroke="#000" stroke-width="0.15" >-5</text>
<text x="414.00" y="258.90" font-family="'Liberation Sans', sans-serif" font-size="8.6" font-weight="normal" letter-spacing="0" text-anchor="middle" fill="#000" stroke="#000" stroke-width="0.15" >0</text>
<text x="429.80" y="258.90" font-family="'Liberation Sans', sans-serif" font-size="8.6" font-weight="normal" letter-spacing="0" text-anchor="middle" fill="#000" stroke="#000" stroke-width="0.15" >-10</text>
<text x="447.30" y="258.90" font-family="'Liberation Sans', sans-serif" font-size="8.6" font-weight="normal" letter-spacing="0" text-anchor="middle" fill="#000" stroke="#000" stroke-width="0.15" >-9</text>
<text x="464.80" y="258.90" font-family="'Liberation Sans', sans-serif" font-size="8.6" font-weight="normal" letter-spacing="0" text-anchor="middle" fill="#000" stroke="#000" stroke-width="0.15" >-8</text>
<text x="481.90" y="258.90" font-family="'Liberation Sans', sans-serif" font-size="8.6" font-weight="normal" letter-spacing="0" text-anchor="middle" fill="#000" stroke="#000" stroke-width="0.15" >-7</text>
<text x="499.10" y="258.90" font-family="'Liberation Sans', sans-serif" font-size="8.6" font-weight="normal" letter-spacing="0" text-anchor="middle" fill="#000" stroke="#000" stroke-width="0.15" >-6</text>
<text x="516.20" y="258.90" font-family="'Liberation Sans', sans-serif" font-size="8.6" font-weight="normal" letter-spacing="0" text-anchor="middle" fill="#000" stroke="#000" stroke-width="0.15" >-5</text>
<text transform="translate(262.4,242.6) rotate(-90)" font-family="'Liberation Serif', serif" font-size="11" letter-spacing="1.30" fill="#111" stroke="#111" stroke-width="0.15">Number of cells migrated (+/- SEM)</text>
<text x="308.30" y="281.50" font-family="'Liberation Serif', serif" font-size="14" font-weight="normal" letter-spacing="0.7" text-anchor="start" fill="#111" stroke="#111" stroke-width="0.15" >analog [log M] chemokine</text>
<text x="31.70" y="36.10" font-family="'Liberation Serif', serif" font-size="8.8" font-weight="bold" letter-spacing="0.8" text-anchor="start" fill="#000" stroke="#000" stroke-width="0.1" >THP-1/CCR2</text>
<text x="140.70" y="36.00" font-family="'Liberation Serif', serif" font-size="8.8" font-weight="bold" letter-spacing="0.45" text-anchor="start" fill="#000" stroke="#000" stroke-width="0.1" >CCR3</text>
<text x="33.90" y="152.60" font-family="'Liberation Serif', serif" font-size="8.8" font-weight="bold" letter-spacing="0.45" text-anchor="start" fill="#000" stroke="#000" stroke-width="0.1" >CCR4</text>
<text x="143.20" y="151.40" font-family="'Liberation Serif', serif" font-size="8.8" font-weight="bold" letter-spacing="0.45" text-anchor="start" fill="#000" stroke="#000" stroke-width="0.1" >CCR5</text>
<text x="285.50" y="33.80" font-family="'Liberation Serif', serif" font-size="8.8" font-weight="bold" letter-spacing="0.8" text-anchor="start" fill="#000" stroke="#000" stroke-width="0.1" >THP-1/CCR2</text>
<text x="416.60" y="34.30" font-family="'Liberation Serif', serif" font-size="8.8" font-weight="bold" letter-spacing="0.45" text-anchor="start" fill="#000" stroke="#000" stroke-width="0.1" >CCR3</text>
<text x="283.70" y="149.60" font-family="'Liberation Serif', serif" font-size="8.8" font-weight="bold" letter-spacing="0.45" text-anchor="start" fill="#000" stroke="#000" stroke-width="0.1" >CCR4</text>
<text x="412.50" y="151.50" font-family="'Liberation Serif', serif" font-size="8.8" font-weight="bold" letter-spacing="0.45" text-anchor="start" fill="#000" stroke="#000" stroke-width="0.1" >CCR5</text>
<line x1="104.60" y1="325.20" x2="401.80" y2="325.20" stroke="#111" stroke-width="2"/>
<line x1="104.60" y1="343.30" x2="401.80" y2="343.30" stroke="#333" stroke-width="1"/>
<line x1="104.60" y1="408.60" x2="401.80" y2="408.60" stroke="#333" stroke-width="1.8"/>
<text x="123.00" y="339.50" font-family="'Liberation Serif', serif" font-size="12" font-weight="normal" letter-spacing="2.2" text-anchor="start" fill="#111" stroke="#111" stroke-width="0.15" >receptor</text>
<text x="201.80" y="338.60" font-family="'Liberation Serif', serif" font-size="12" font-weight="normal" letter-spacing="0.66" text-anchor="start" fill="#111" stroke="#111" stroke-width="0.15" >vMIP-III IC</text>
<text x="267.20" y="342.50" font-family="'Liberation Serif', serif" font-size="8" font-weight="normal" letter-spacing="0.6" text-anchor="start" fill="#111" stroke="#111" stroke-width="0.15" >50</text>
<text x="285.60" y="338.70" font-family="'Liberation Serif', serif" font-size="12" font-weight="normal" letter-spacing="1.55" text-anchor="start" fill="#111" stroke="#111" stroke-width="0.15" >cognate ligand IC</text>
<text x="396.20" y="342.70" font-family="'Liberation Serif', serif" font-size="8" font-weight="normal" letter-spacing="0.6" text-anchor="start" fill="#111" stroke="#111" stroke-width="0.15" >50</text>
<text x="111.00" y="357.60" font-family="'Liberation Serif', serif" font-size="12" font-weight="normal" letter-spacing="1.57" text-anchor="start" fill="#111" stroke="#111" stroke-width="0.15" >THP-1/CCR2</text>
<text x="214.80" y="357.60" font-family="'Liberation Serif', serif" font-size="12" font-weight="normal" letter-spacing="2.2" text-anchor="start" fill="#111" stroke="#111" stroke-width="0.15" >968 nM</text>
<text x="292.20" y="357.60" font-family="'Liberation Serif', serif" font-size="12" font-weight="normal" letter-spacing="1.4" text-anchor="start" fill="#111" stroke="#111" stroke-width="0.15" >MCP-1</text>
<text x="341.30" y="357.60" font-family="'Liberation Serif', serif" font-size="12" font-weight="normal" letter-spacing="1.75" text-anchor="start" fill="#111" stroke="#111" stroke-width="0.15" >1.5 nM</text>
<text x="111.00" y="373.90" font-family="'Liberation Serif', serif" font-size="12" font-weight="normal" letter-spacing="1.3" text-anchor="start" fill="#111" stroke="#111" stroke-width="0.15" >CCR3</text>
<text x="214.80" y="373.90" font-family="'Liberation Serif', serif" font-size="12" font-weight="normal" letter-spacing="2.2" text-anchor="start" fill="#111" stroke="#111" stroke-width="0.15" >273 nM</text>
<text x="292.20" y="373.90" font-family="'Liberation Serif', serif" font-size="12" font-weight="normal" letter-spacing="1.4" text-anchor="start" fill="#111" stroke="#111" stroke-width="0.15" >MCP-4</text>
<text x="341.30" y="373.90" font-family="'Liberation Serif', serif" font-size="12" font-weight="normal" letter-spacing="1.75" text-anchor="start" fill="#111" stroke="#111" stroke-width="0.15" >220 pM</text>
<text x="111.00" y="390.80" font-family="'Liberation Serif', serif" font-size="12" font-weight="normal" letter-spacing="1.3" text-anchor="start" fill="#111" stroke="#111" stroke-width="0.15" >CCR4</text>
<text x="214.80" y="390.80" font-family="'Liberation Serif', serif" font-size="12" font-weight="normal" letter-spacing="2.2" text-anchor="start" fill="#111" stroke="#111" stroke-width="0.15" >100 nM</text>
<text x="292.20" y="390.80" font-family="'Liberation Serif', serif" font-size="12" font-weight="normal" letter-spacing="0.9" text-anchor="start" fill="#111" stroke="#111" stroke-width="0.15" >MDC</text>
<text x="341.30" y="390.80" font-family="'Liberation Serif', serif" font-size="12" font-weight="normal" letter-spacing="1.75" text-anchor="start" fill="#111" stroke="#111" stroke-width="0.15" >150 pM</text>
<text x="111.00" y="406.30" font-family="'Liberation Serif', serif" font-size="12" font-weight="normal" letter-spacing="1.3" text-anchor="start" fill="#111" stroke="#111" stroke-width="0.15" >CCR5</text>
<text x="214.80" y="406.30" font-family="'Liberation Serif', serif" font-size="12" font-weight="normal" letter-spacing="2.2" text-anchor="start" fill="#111" stroke="#111" stroke-width="0.15" >195 nM</text>
<text x="292.20" y="406.30" font-family="'Liberation Serif', serif" font-size="12" font-weight="normal" letter-spacing="0.9" text-anchor="start" fill="#111" stroke="#111" stroke-width="0.15" >MIP-1α</text>
<text x="341.30" y="406.30" font-family="'Liberation Serif', serif" font-size="12" font-weight="normal" letter-spacing="1.75" text-anchor="start" fill="#111" stroke="#111" stroke-width="0.15" >155 pM</text>
</svg>
</body></html>
